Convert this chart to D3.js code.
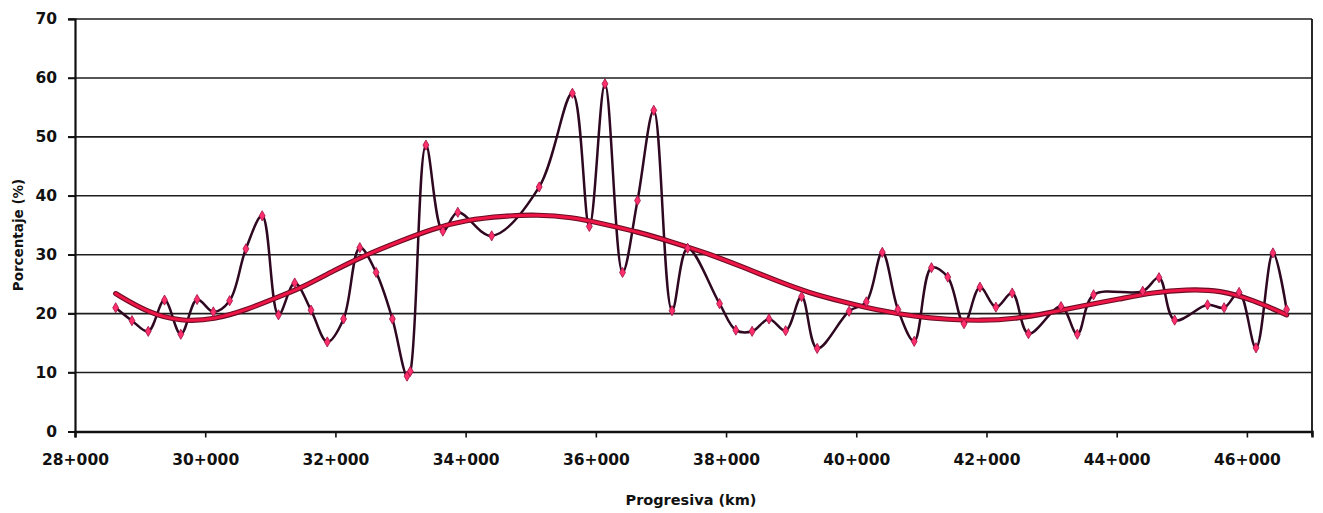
<!DOCTYPE html>
<html>
<head>
<meta charset="utf-8">
<script src="https://cdn.jsdelivr.net/npm/d3@7"></script>
<style>
  html, body { margin: 0; padding: 0; background: #ffffff; }
  svg { display: block; }
</style>
</head>
<body>
<svg id="chart" width="1323" height="513"></svg>
<script>
// Progresiva (km) of each sampled station
const stationKm = [
  28.625, 28.875, 29.125, 29.375, 29.625, 29.875, 30.125, 30.375, 30.625, 30.875,
  31.125, 31.375, 31.625, 31.875, 32.125, 32.375, 32.625, 32.875, 33.10, 33.15,
  33.39, 33.65, 33.88, 34.40, 35.13, 35.64, 35.90, 36.14, 36.41, 36.64,
  36.89, 37.17, 37.41, 37.90, 38.15, 38.40, 38.66, 38.915, 39.16, 39.40,
  39.89, 40.155, 40.40, 40.64, 40.89, 41.155, 41.405, 41.655, 41.90, 42.145,
  42.395, 42.645, 43.145, 43.395, 43.645, 44.40, 44.65, 44.89, 45.395, 45.65,
  45.88, 46.14, 46.40, 46.61
];
// Porcentaje (%) measured at each station
const percent = [
  21.0, 18.8, 17.0, 22.3, 16.5, 22.4, 20.3, 22.2, 31.0, 36.6,
  19.8, 25.2, 20.6, 15.2, 19.1, 31.2, 27.0, 19.1, 9.4, 10.2,
  48.6, 34.0, 37.2, 33.2, 41.5, 57.4, 34.8, 59.0, 27.0, 39.2,
  54.5, 20.5, 31.1, 21.7, 17.2, 17.0, 19.1, 17.1, 22.9, 14.1,
  20.4, 22.0, 30.4, 20.7, 15.3, 27.8, 26.2, 18.3, 24.5, 21.1,
  23.5, 16.6, 21.2, 16.5, 23.2, 23.8, 26.1, 18.9, 21.5, 21.0,
  23.6, 14.2, 30.3, 20.7
];
// Trend curve, sampled along the route
const trendKm = [
  28.625, 29.11, 29.625, 30.14, 30.65, 31.16, 31.52, 31.955, 32.47, 32.98,
  33.49, 34.0, 34.6, 35.1, 35.62, 36.13, 36.64, 37.16, 37.75, 38.26,
  38.77, 39.28, 39.80, 40.31, 40.90, 41.41, 41.92, 42.43, 42.95, 43.46,
  44.05, 44.56, 45.07, 45.59, 46.10, 46.61
];
const trendPct = [
  23.4, 20.2, 18.65, 19.0, 20.7, 23.0, 24.6, 27.2, 30.0, 32.25,
  34.4, 35.9, 36.6, 36.8, 36.4, 35.2, 33.9, 32.2, 30.1, 27.9,
  25.6, 23.5, 22.0, 20.6, 19.5, 19.0, 18.8, 19.1, 20.1, 21.3,
  22.5, 23.6, 24.1, 24.0, 22.3, 19.8
];
// Axis ticks
const xTicks = [28, 30, 32, 34, 36, 38, 40, 42, 44, 46];
const yTicks = [0, 10, 20, 30, 40, 50, 60, 70];

const svg = d3.select("#chart");
const plotLeft = 75, plotRight = 1312, plotTop = 19, plotBottom = 431.5;

const x = d3.scaleLinear().domain([28, 47]).range([plotLeft, plotRight]);
const y = d3.scaleLinear().domain([0, 70]).range([plotBottom, plotTop]);

// Horizontal gridlines
svg.append("g")
  .selectAll("line")
  .data(yTicks.filter(v => v > 0))
  .join("line")
  .attr("x1", plotLeft - 7).attr("x2", plotRight)
  .attr("y1", d => y(d)).attr("y2", d => y(d))
  .attr("stroke", "#1e1e1e").attr("stroke-width", 1.6);

// Right border
svg.append("line")
  .attr("x1", plotRight).attr("x2", plotRight)
  .attr("y1", plotTop).attr("y2", plotBottom + 4)
  .attr("stroke", "#111").attr("stroke-width", 1.8);

// Y axis
const yAxis = svg.append("g")
  .attr("transform", `translate(${plotLeft},0)`)
  .call(d3.axisLeft(y).tickValues(yTicks).tickSize(7).tickPadding(11).tickFormat(d3.format("d")));
yAxis.select(".domain").attr("stroke", "#111").attr("stroke-width", 2.2);
yAxis.selectAll(".tick line").attr("stroke", "#111").attr("stroke-width", 1.6);
yAxis.selectAll(".tick text")
  .attr("font-family", "'DejaVu Sans', Verdana, sans-serif")
  .attr("font-weight", "bold").attr("font-size", 15.5).attr("fill", "#111");

// X axis
const xAxis = svg.append("g")
  .attr("transform", `translate(0,${plotBottom})`)
  .call(d3.axisBottom(x).tickValues(xTicks).tickSize(6).tickPadding(16)
    .tickFormat(d => `${d}+000`));
xAxis.select(".domain").attr("stroke", "#111").attr("stroke-width", 2.6);
xAxis.selectAll(".tick line").attr("stroke", "#111").attr("stroke-width", 1.6);
xAxis.selectAll(".tick text")
  .attr("font-family", "'DejaVu Sans', Verdana, sans-serif")
  .attr("font-weight", "bold").attr("font-size", 15.5).attr("fill", "#111");

// Axis titles
svg.append("text")
  .attr("x", 691).attr("y", 505)
  .attr("text-anchor", "middle")
  .attr("font-family", "'DejaVu Sans', Verdana, sans-serif")
  .attr("font-weight", "bold").attr("font-size", 14.5).attr("fill", "#111")
  .text("Progresiva (km)");

svg.append("text")
  .attr("transform", "translate(23,235) rotate(-90)")
  .attr("text-anchor", "middle")
  .attr("font-family", "'DejaVu Sans', Verdana, sans-serif")
  .attr("font-weight", "bold").attr("font-size", 13.5).attr("fill", "#111")
  .text("Porcentaje (%)");

// Measured series: smoothed line
const pts = stationKm.map((k, i) => [k, percent[i]]);
const line = d3.line()
  .x(d => x(d[0])).y(d => y(d[1]))
  .curve(d3.curveCatmullRom.alpha(0.5));

svg.append("path")
  .datum(pts)
  .attr("d", line)
  .attr("fill", "none")
  .attr("stroke", "#2e0820")
  .attr("stroke-width", 2.5);

// Trend curve: dark edge under a red core
const trend = trendKm.map((k, i) => [k, trendPct[i]]);
const trendLine = d3.line()
  .x(d => x(d[0])).y(d => y(d[1]))
  .curve(d3.curveBasis);

svg.append("path")
  .datum(trend)
  .attr("d", trendLine)
  .attr("fill", "none")
  .attr("stroke", "#6a0c24")
  .attr("stroke-width", 5.2)
  .attr("stroke-linecap", "round");
svg.append("path")
  .datum(trend)
  .attr("d", trendLine)
  .attr("fill", "none")
  .attr("stroke", "#ee1646")
  .attr("stroke-width", 3)
  .attr("stroke-linecap", "round");

// Station markers
svg.append("g")
  .selectAll("path")
  .data(pts)
  .join("path")
  .attr("transform", d => `translate(${x(d[0])},${y(d[1])})`)
  .attr("d", d3.symbol(d3.symbolDiamond, 30))
  .attr("fill", "#ff2f6b")
  .attr("stroke", "#9a1042")
  .attr("stroke-width", 0.8);
</script>
</body>
</html>
